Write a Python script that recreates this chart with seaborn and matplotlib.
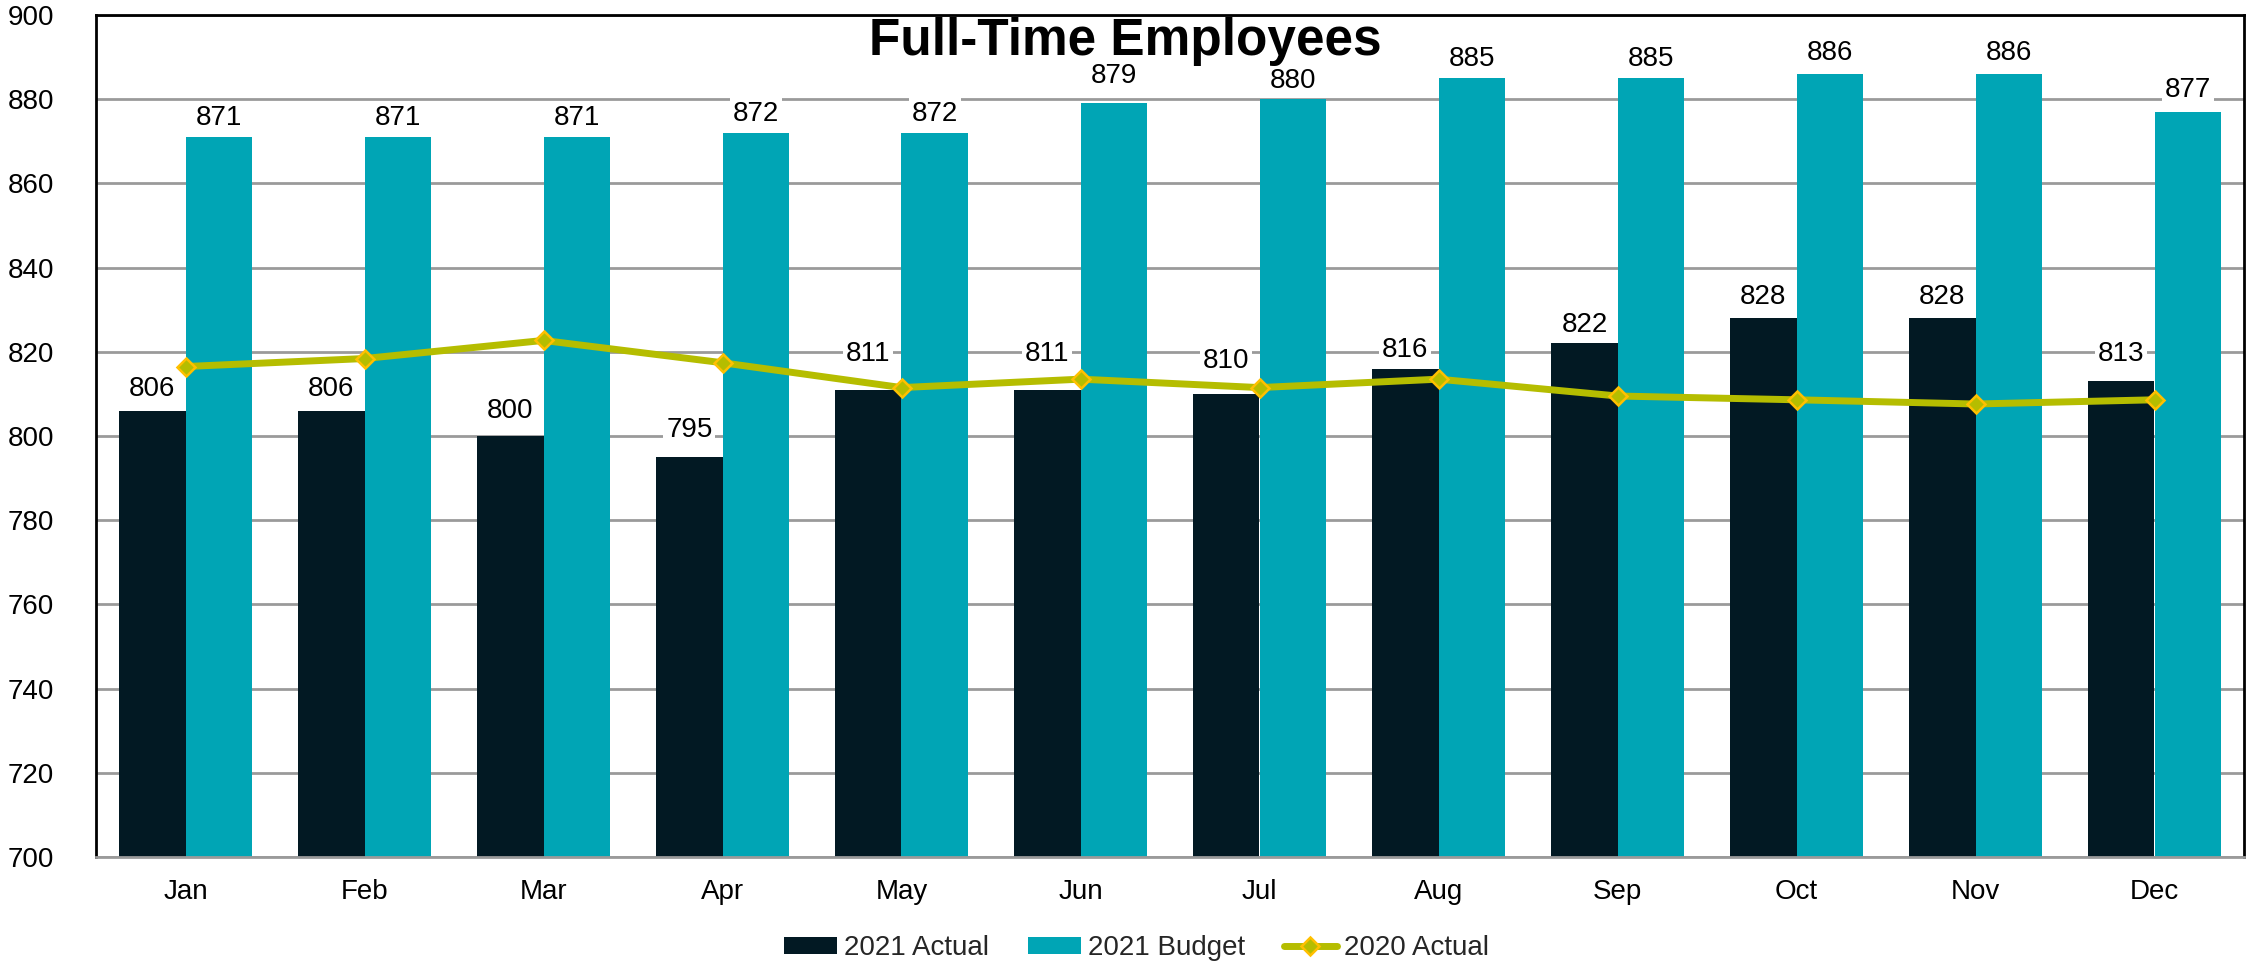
import matplotlib
matplotlib.use("Agg")
import matplotlib.pyplot as plt
import seaborn as sns
import pandas as pd
from matplotlib.lines import Line2D
from matplotlib.patches import Patch

months = ["Jan", "Feb", "Mar", "Apr", "May", "Jun", "Jul", "Aug", "Sep", "Oct", "Nov", "Dec"]
actual_2021 = [806, 806, 800, 795, 811, 811, 810, 816, 822, 828, 828, 813]
budget_2021 = [871, 871, 871, 872, 872, 879, 880, 885, 885, 886, 886, 877]
actual_2020 = [816.5, 818.4, 822.7, 817.4, 811.5, 813.5, 811.5, 813.5, 809.5, 808.6, 807.6, 808.6]
series_names = ["2021 Actual", "2021 Budget", "2020 Actual"]
yticks = [700, 720, 740, 760, 780, 800, 820, 840, 860, 880, 900]

# how far (in pixels) each value label sits above its bar, lifted where the line passes
actual_label_lift = [22, 22, 25, 27, 36, 36, 33, 19, 18, 21, 21, 27]
budget_label_lift = [19, 19, 19, 19, 19, 27, 18, 19, 19, 21, 21, 22]

c_actual = "#021923"
c_budget = "#00A5B5"
c_line = "#B5BD00"
c_marker_edge = "#FFC000"
c_grid = "#9A9A9A"

sns.set_theme(style="white")
plt.rcParams["font.family"] = ["Liberation Sans", "DejaVu Sans"]

FS = 20
DPI = 100
px = 72 / DPI  # points per pixel

df = pd.DataFrame({
    "Month": months * 2,
    "Value": actual_2021 + budget_2021,
    "Series": [series_names[0]] * 12 + [series_names[1]] * 12,
})

fig = plt.figure(figsize=(22.55, 9.64), dpi=DPI)
ax = fig.add_axes([96 / 2255, 1 - 857 / 964, (2244 - 96) / 2255, (857 - 15) / 964])

sns.barplot(data=df, x="Month", y="Value", hue="Series", order=months,
            hue_order=series_names[:2], palette=[c_actual, c_budget],
            width=0.74, gap=0, saturation=1, ax=ax, legend=False,
            edgecolor="none", linewidth=0)

# value labels above bars, on white boxes so the grid does not run through them
for container, vals, lifts in zip(ax.containers, [actual_2021, budget_2021],
                                  [actual_label_lift, budget_label_lift]):
    for bar, v, lift in zip(container, vals, lifts):
        ax.annotate(f"{v}", (bar.get_x() + bar.get_width() / 2, v),
                    xytext=(0, lift * px), textcoords="offset points",
                    ha="center", va="center", fontsize=FS, color="black",
                    bbox=dict(boxstyle="square,pad=0.1", fc="white", ec="none"),
                    zorder=6)

ax.plot(range(len(months)), actual_2020, color=c_line, lw=5, marker="D",
        markersize=9, markerfacecolor=c_line, markeredgecolor=c_marker_edge,
        markeredgewidth=1.8, zorder=5, solid_capstyle="round")

ax.set_ylim(700, 900)
ax.set_xlim(-0.5, len(months) - 0.5)
ax.set_yticks(yticks)
ax.set_yticklabels([str(t) for t in yticks])
ax.yaxis.grid(True, color=c_grid, lw=2)
ax.set_axisbelow(True)
ax.set_xlabel("")
ax.set_ylabel("")
ax.tick_params(axis="y", length=0, pad=30, labelsize=FS, colors="black")
ax.tick_params(axis="x", length=0, pad=16, labelsize=FS, colors="black")

for side in ["left", "top", "right"]:
    ax.spines[side].set_color("black")
    ax.spines[side].set_linewidth(2)
ax.spines["bottom"].set_color(c_grid)
ax.spines["bottom"].set_linewidth(2)

fig.text(1125 / 2255, 1 - 55 / 964, "Full-Time Employees", ha="center", va="baseline",
         fontsize=37, fontweight="bold", color="black")

handles = [
    Patch(facecolor=c_actual, edgecolor="none"),
    Patch(facecolor=c_budget, edgecolor="none"),
    Line2D([0], [0], color=c_line, lw=5, marker="D", markersize=9,
           markerfacecolor=c_line, markeredgecolor=c_marker_edge, markeredgewidth=1.8),
]
fig.legend(handles, series_names, loc="center", bbox_to_anchor=(0.504, 1 - 948 / 964),
           ncol=3, frameon=False, fontsize=FS, handlelength=1.9, handleheight=0.55,
           handletextpad=0.25, columnspacing=1.4)

fig.savefig("out.png", dpi=DPI)
